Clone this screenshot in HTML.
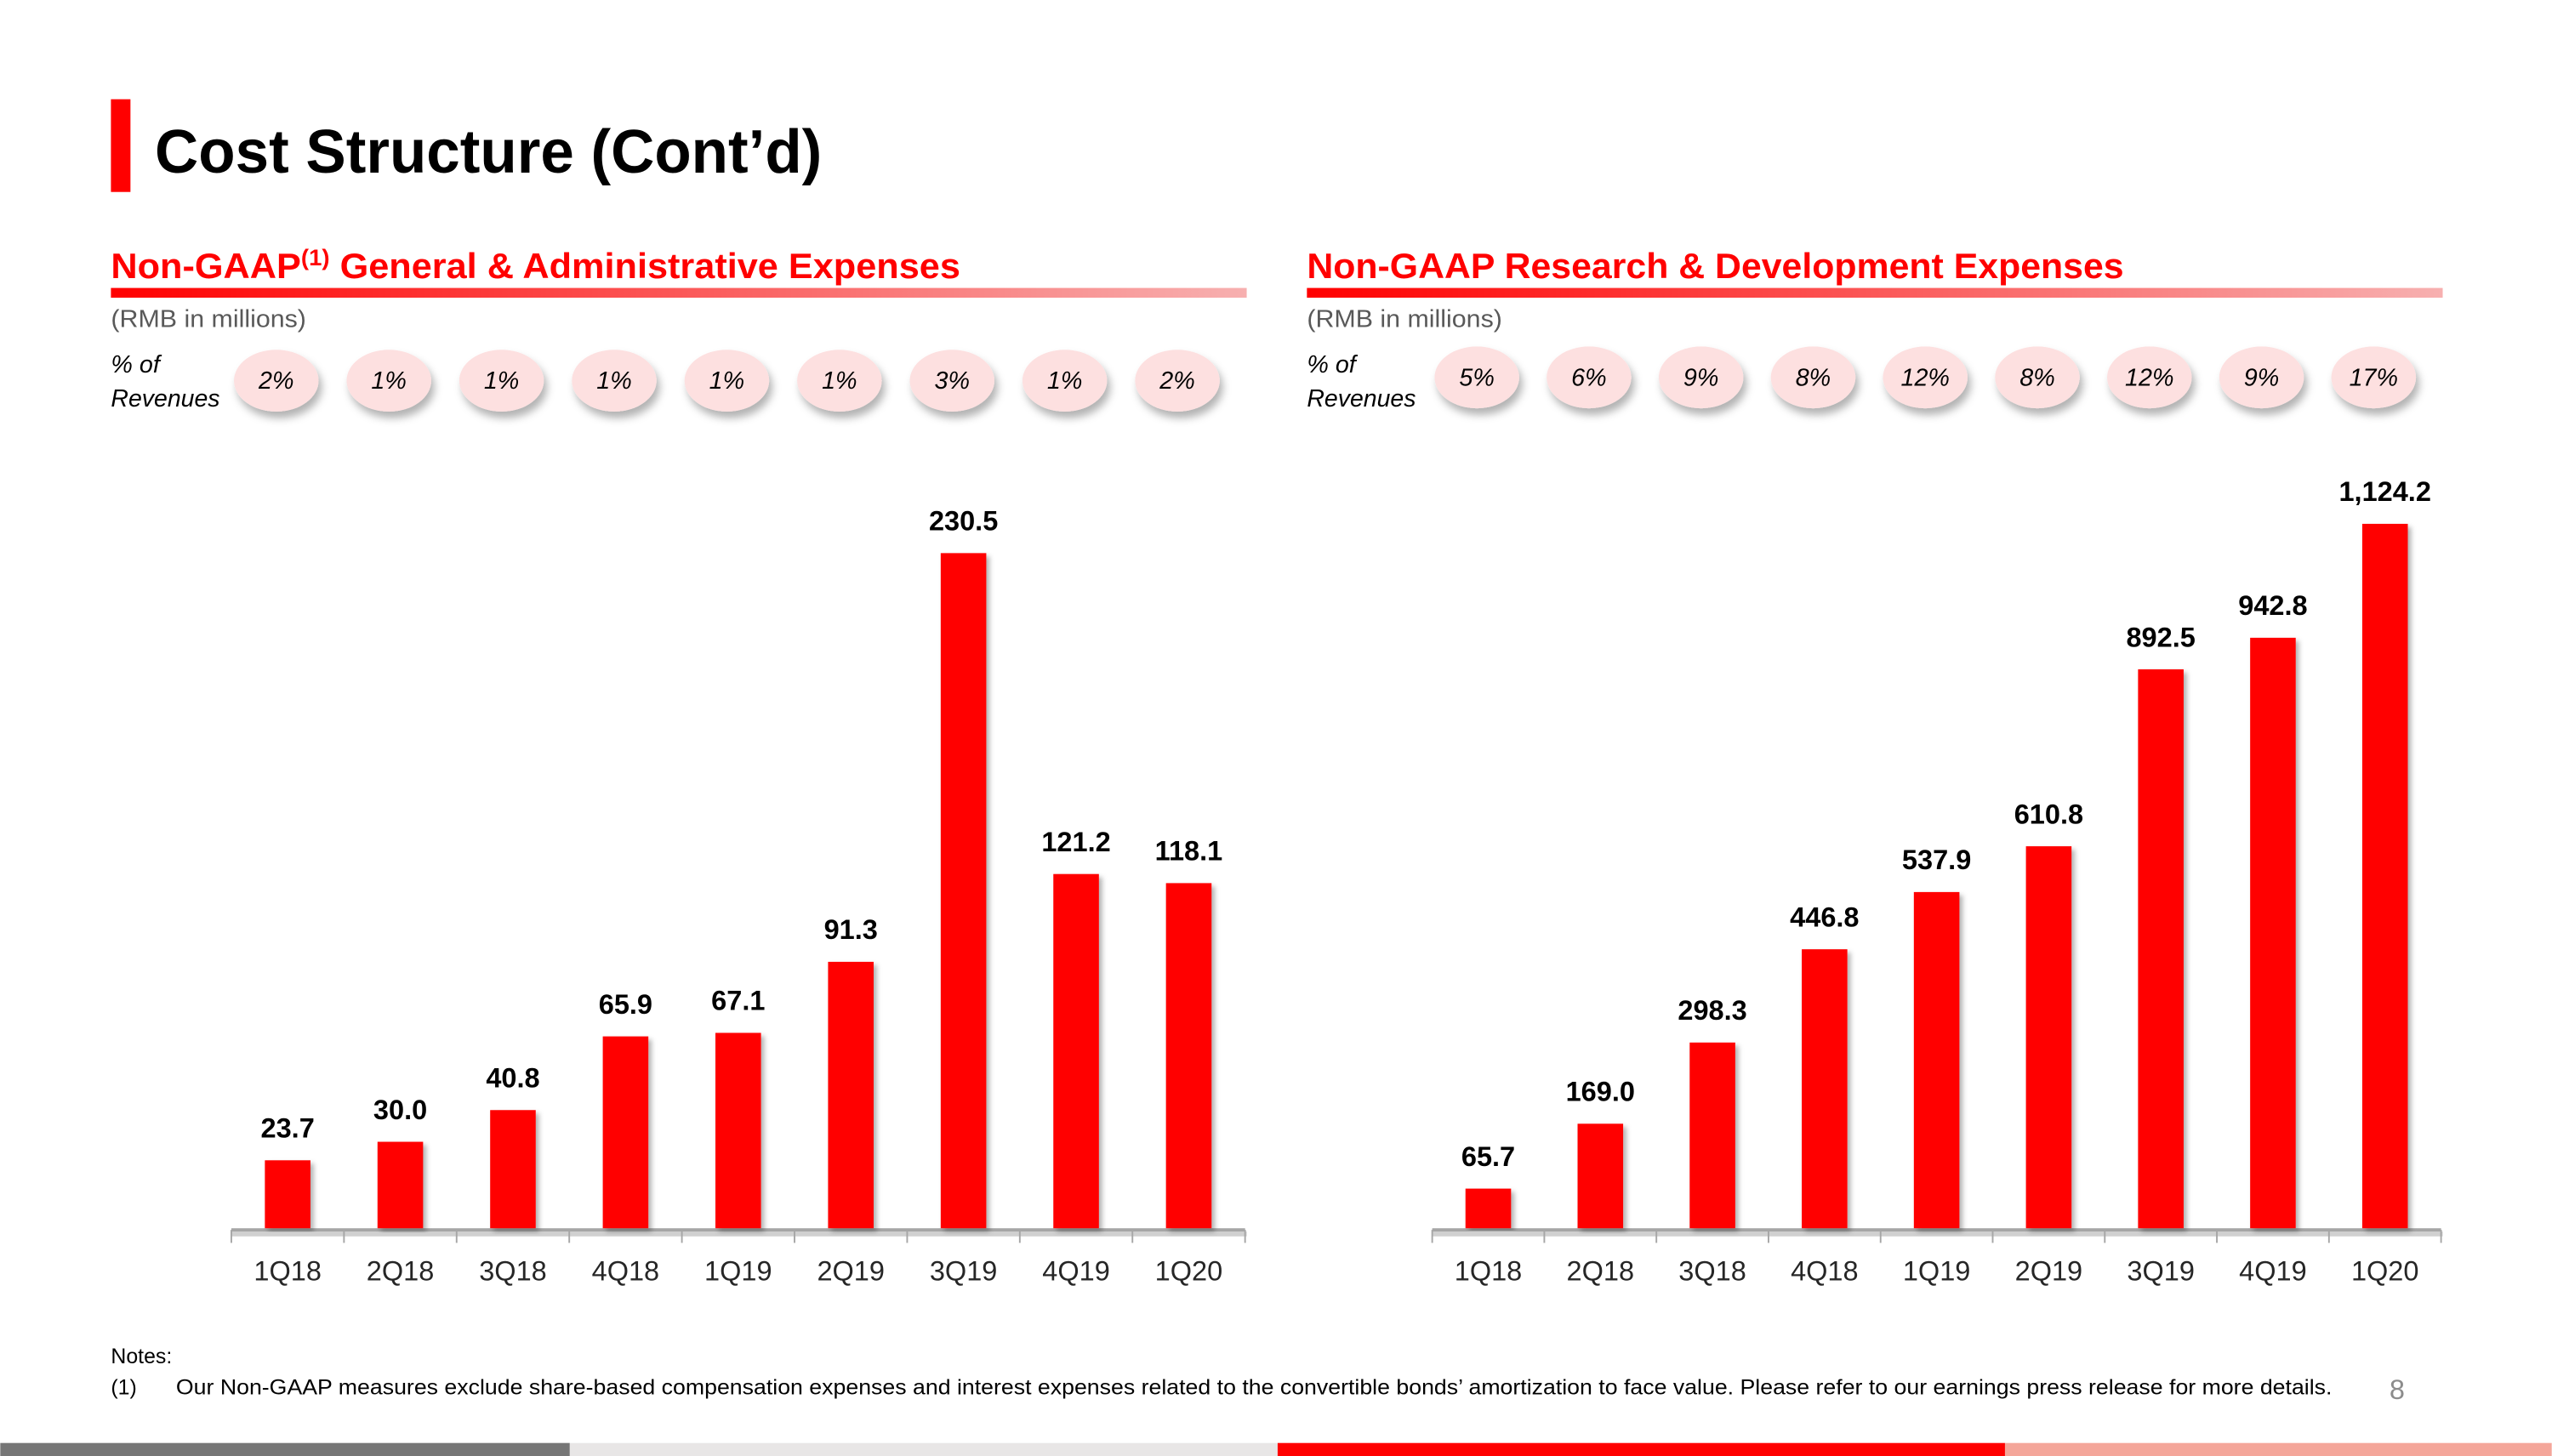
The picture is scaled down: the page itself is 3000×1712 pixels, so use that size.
<!DOCTYPE html>
<html><head><meta charset="utf-8">
<style>
html,body{margin:0;padding:0;background:#fff;}
svg{display:block;}
text{font-family:"Liberation Sans",sans-serif;}
</style></head>
<body>
<svg id="s" width="3000" height="1712" viewBox="0 0 1568 895" xmlns="http://www.w3.org/2000/svg">
<defs>
<linearGradient id="g" x1="0" x2="1"><stop offset="0" stop-color="#ff0000"/><stop offset="1" stop-color="#f7b0b0"/></linearGradient>
<filter id="sh" x="-30%" y="-30%" width="160%" height="170%"><feDropShadow dx="2" dy="4" stdDeviation="2.5" flood-color="#000" flood-opacity="0.3"/></filter>
<filter id="bs" x="-30%" y="-5%" width="160%" height="110%"><feDropShadow dx="2" dy="2" stdDeviation="1.5" flood-color="#000" flood-opacity="0.3"/></filter>
</defs>
<rect x="68" y="61" width="12" height="57" fill="#ff0000"/>
<text x="95" y="106" font-size="38" font-weight="bold" textLength="410" lengthAdjust="spacingAndGlyphs">Cost Structure (Cont’d)</text>

<g>
<text x="68" y="171" font-size="22" font-weight="bold" fill="#ff0000" textLength="522" lengthAdjust="spacingAndGlyphs">Non-GAAP<tspan font-size="14" dy="-8">(1)</tspan><tspan dy="8"> General &amp; Administrative Expenses</tspan></text>
<rect x="68" y="177" width="698" height="6" fill="url(#g)"/>
<text x="68" y="201" font-size="15" fill="#595959" textLength="120" lengthAdjust="spacingAndGlyphs">(RMB in millions)</text>
<text x="68" y="229" font-size="15" font-style="italic">% of</text>
<text x="68" y="250" font-size="15" font-style="italic" textLength="67" lengthAdjust="spacingAndGlyphs">Revenues</text>
</g>
<g>
<text x="803" y="171" font-size="22" font-weight="bold" fill="#ff0000" textLength="502" lengthAdjust="spacingAndGlyphs">Non-GAAP Research &amp; Development Expenses</text>
<rect x="803" y="177" width="698" height="6" fill="url(#g)"/>
<text x="803" y="201" font-size="15" fill="#595959" textLength="120" lengthAdjust="spacingAndGlyphs">(RMB in millions)</text>
<text x="803" y="229" font-size="15" font-style="italic">% of</text>
<text x="803" y="250" font-size="15" font-style="italic" textLength="67" lengthAdjust="spacingAndGlyphs">Revenues</text>
</g>
<g id="charts"></g>

<text x="68" y="838" font-size="13">Notes:</text>
<text x="68" y="857" font-size="13">(1)</text>
<text x="108" y="857" font-size="13" textLength="1325" lengthAdjust="spacingAndGlyphs">Our Non-GAAP measures exclude share-based compensation expenses and interest expenses related to the convertible bonds’ amortization to face value. Please refer to our earnings press release for more details.</text>
<text x="1473" y="860" font-size="17" fill="#8c8c8c" text-anchor="middle">8</text>

<rect x="0" y="887" width="350" height="8" fill="#767676"/>
<rect x="350" y="887" width="435" height="8" fill="#e8e6e6"/>
<rect x="785" y="887" width="447" height="8" fill="#ff0000"/>
<rect x="1232" y="887" width="336" height="8" fill="#f4a69a"/>
</svg>
<script>
const categories = ["1Q18","2Q18","3Q18","4Q18","1Q19","2Q19","3Q19","4Q19","1Q20"];
const gaValues = [23.7,30.0,40.8,65.9,67.1,91.3,230.5,121.2,118.1];
const gaLabels = ["23.7","30.0","40.8","65.9","67.1","91.3","230.5","121.2","118.1"];
const gaPct = ["2%","1%","1%","1%","1%","1%","3%","1%","2%"];
const rdValues = [65.7,169.0,298.3,446.8,537.9,610.8,892.5,942.8,1124.2];
const rdLabels = ["65.7","169.0","298.3","446.8","537.9","610.8","892.5","942.8","1,124.2"];
const rdPct = ["5%","6%","9%","8%","12%","8%","12%","9%","17%"];

const NS="http://www.w3.org/2000/svg";
const root=document.getElementById('charts');
function mk(tag,attrs,parent){const e=document.createElementNS(NS,tag);for(const k in attrs)e.setAttribute(k,attrs[k]);(parent||root).appendChild(e);return e;}

function chart(prefix,x0,x1,axisY,maxVal,maxH,vals,labels,pcts,pillY){
  const g=mk('g',{});
  
  
  const n=categories.length, w=(x1-x0)/n;
  const xs=i=>x0+w*(i+0.5);
  const ys=v=>axisY-v/maxVal*maxH;
  const axs=mk('rect',{x:x0,y:axisY+1,width:x1-x0+1,height:3,fill:'#d0d0d0'},g);
  
  
  const ax=mk('rect',{x:x0,y:axisY-1,width:x1-x0,height:2,fill:'#a6a6a6'},g);
  
  
  for(let i=0;i<=n;i++){
    const t=mk('line',{x1:x0+w*i,y1:axisY,x2:x0+w*i,y2:axisY+8,stroke:'#a6a6a6','stroke-width':1},g);
    
    
  }
  vals.forEach((v,i)=>{
    const y=ys(v);
    const b=mk('rect',{x:xs(i)-14,y:y,width:28,height:axisY-1-y,fill:'#ff0000',filter:'url(#bs)'},g);
    
    
    const l=mk('text',{x:xs(i),y:y-14,'font-size':17,'font-weight':'bold','text-anchor':'middle'},g);
    l.textContent=labels[i];
    
    
    const c=mk('text',{x:xs(i),y:axisY+31,'font-size':17,'text-anchor':'middle',fill:'#262626'},g);
    c.textContent=categories[i];
    
    
    const p=mk('ellipse',{cx:xs(i)-7,cy:pillY,rx:26,ry:19,fill:'#fde0e0',filter:'url(#sh)'},g);
    
    
    const pt=mk('text',{x:xs(i)-7,y:pillY+5,'font-size':15,'font-style':'italic','text-anchor':'middle'},g);
    pt.textContent=pcts[i];
    
    
  });
}
chart('ga',142,765,756,230.5,416,gaValues,gaLabels,gaPct,234);
chart('rd',880,1500,756,1124.2,434,rdValues,rdLabels,rdPct,232);
</script>
</body></html>
